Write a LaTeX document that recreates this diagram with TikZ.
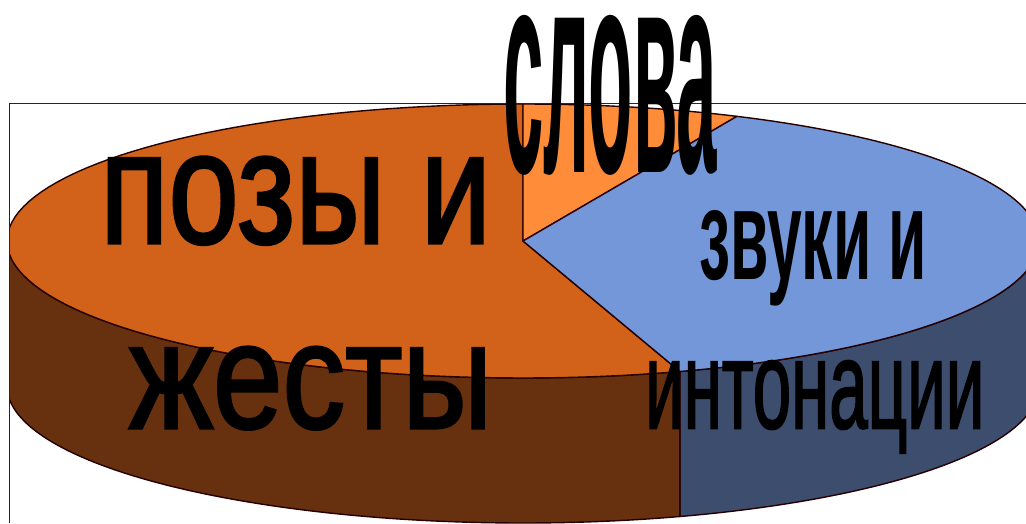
\documentclass[tikz,border=0pt]{standalone}
\usepackage{graphicx}
\usepackage{fontspec}
\setmainfont{Liberation Sans}
\newfontfamily\heavy[FakeBold=2]{Liberation Sans}
\newfontfamily\heavier[FakeBold=1.5]{Liberation Sans Bold}
\definecolor{topbrown}{HTML}{D2621A}
\definecolor{topblue}{HTML}{7397D9}
\definecolor{toporange}{HTML}{FF8C38}
\definecolor{sidebrown}{HTML}{67300F}
\definecolor{sideblue}{HTML}{3D4D6E}
\newcommand{\rimx}{523+516*cos(\x)}
\newcommand{\rimy}{241+137*sin(\x)}
\tikzset{
  slice/.style={draw=black!85!red,line width=1.4pt,line join=round},
  frameline/.style={draw=black!85,line width=1.5pt},
  lab/.style={inner sep=0pt,anchor=base west,text=black}
}
\begin{document}
\begin{tikzpicture}[x=1pt,y=-1pt,samples=90]
\useasboundingbox (0,0) rectangle (1026,523);
\fill[white] (0,0) rectangle (1026,523);
\draw[frameline] (9.5,523) -- (9.5,103.5) -- (1026,103.5);
\begin{scope}
\clip (10,104) rectangle (1026,523);
\coordinate (c) at (523,241);
\filldraw[slice,fill=sideblue] plot[domain=0:72.3] ({\rimx},{\rimy}) -- plot[domain=72.3:0] ({\rimx},{\rimy+145}) -- cycle;
\filldraw[slice,fill=sidebrown] plot[domain=72.3:180] ({\rimx},{\rimy}) -- plot[domain=180:72.3] ({\rimx},{\rimy+145}) -- cycle;
\filldraw[slice,fill=topbrown] (c) -- plot[domain=72.3:270] ({\rimx},{\rimy}) -- cycle;
\filldraw[slice,fill=toporange] (c) -- plot[domain=270:294.5] ({\rimx},{\rimy}) -- cycle;
\filldraw[slice,fill=topblue] (c) -- plot[domain=294.5:432.3] ({\rimx},{\rimy}) -- cycle;
\end{scope}
\node[lab] (slova) at (503,172) {\resizebox{214pt}{157pt}{\bfseries слова}};
\node[lab] (pozy) at (100,243) {\resizebox{391pt}{86pt}{\heavy позы и}};
\node[lab] (zhesty) at (129,428) {\resizebox{363pt}{81pt}{\heavy жесты}};
\node[lab] (zvuki) at (699,279) {\resizebox{228pt}{69pt}{\bfseries звуки и}};
\node[lab] (inton) at (645,428) {\resizebox{339pt}{67pt}{\heavy интонации}};
\end{tikzpicture}
\end{document}
